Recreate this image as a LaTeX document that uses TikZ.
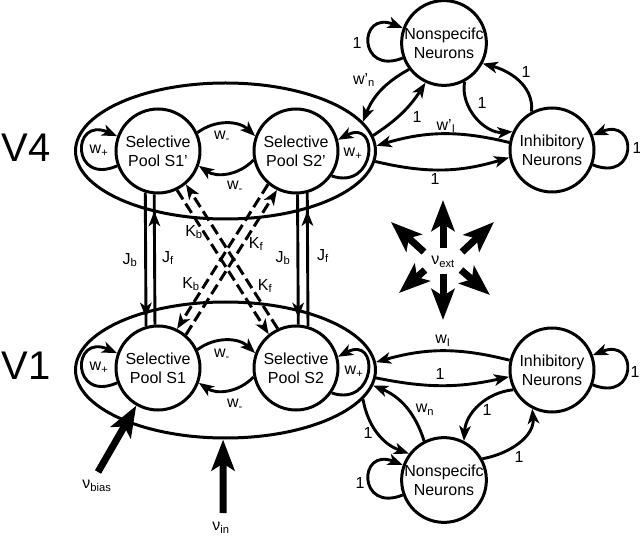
\documentclass[tikz,border=0pt]{standalone}
\usepackage{fontspec}
\setmainfont{Liberation Sans}
\usetikzlibrary{arrows.meta,shapes.geometric,decorations.markings}
\begin{document}
\begin{tikzpicture}[x=1pt,y=1pt,
  every node/.style={font=\fontsize{16}{18}\selectfont, inner sep=0pt},
  pool/.style={circle, draw, line width=3pt, minimum size=84pt, inner sep=0pt, align=center, font=\fontsize{16}{19}\selectfont},
  area/.style={ellipse, draw, line width=3pt, minimum width=300pt, minimum height=136pt, inner sep=0pt},
  arr/.style={line width=2.9pt, -{Stealth[length=15pt,width=11.5pt,inset=4pt]}},
  ln/.style={line width=2.9pt},
  midarr/.style={postaction={decorate,decoration={markings,mark=at position #1 with {\arrow{Stealth[length=15pt,width=11.5pt,inset=4pt]}}}}},
  dsh/.style={line width=3pt, dash pattern=on 11pt off 5pt, -{Stealth[length=15pt,width=11.5pt,inset=4pt]}},
  big/.style={line width=7pt, -{Stealth[length=31pt,width=23pt,inset=7pt]}},
  vlab/.style={font=\fontsize{40}{40}\selectfont},
  ]
\useasboundingbox (0,-537) rectangle (640,0);

% areas
\node[area] (V4) at (225.5,-151) {};
\node[area] (V1) at (225.5,-370) {};

% pools
\node[pool] (S1p) at (158,-151) {Selective\\Pool S1'};
\node[pool] (S2p) at (296,-151) {Selective\\Pool S2'};
\node[pool] (S1) at (158,-368) {Selective\\Pool S1};
\node[pool] (S2) at (296,-368) {Selective\\Pool S2};
\node[pool] (NT) at (444,-43) {Nonspecifc\\Neurons};
\node[pool] (IT) at (552,-150) {Inhibitory\\Neurons};
\node[pool] (IB) at (552,-370) {Inhibitory\\Neurons};
\node[pool] (NB) at (444,-480) {Nonspecifc\\Neurons};

% area labels
\node[vlab] (LV4) at (26,-148) {V4};
\node[vlab] (LV1) at (26,-366) {V1};

% V4 internal
\draw[arr] (S1p.200) .. controls +(-46,-20) and +(-46,20) .. (S1p.160);
\node (lw1) at (99,-151) {w\textsubscript{+}};
\draw[arr] (S2p.-35) .. controls +(45,-15) and +(42,22) .. (S2p.15);
\node (lw2) at (353,-154) {w\textsubscript{+}};
\draw[arr] (S1p.25) to[bend left=40] (S2p.160);
\draw[arr] (S2p.192) to[bend left=40] (S1p.-20);
\node (lw3) at (222,-137) {w\textsubscript{-}};
\node (lw4) at (235,-187) {w\textsubscript{-}};

% V1 internal
\draw[arr] (S1.200) .. controls +(-46,-20) and +(-46,20) .. (S1.160);
\node (lw5) at (99,-368) {w\textsubscript{+}};
\draw[arr] (S2.-35) .. controls +(45,-15) and +(42,22) .. (S2.15);
\node (lw6) at (354,-372) {w\textsubscript{+}};
\draw[arr] (S1.25) to[bend left=40] (S2.160);
\draw[arr] (S2.192) to[bend left=40] (S1.-20);
\node (lw7) at (222,-355) {w\textsubscript{-}};
\node (lw8) at (235,-405) {w\textsubscript{-}};

% J connections
\draw[ln, midarr=0.937] (S1p.253.4) -- (S1.106.6);
\draw[ln, midarr=0.871] (S1.94.1) -- (S1p.265.9);
\draw[ln, midarr=0.948] (S2p.272.7) -- (S2.87.3);
\draw[ln, midarr=0.867] (S2.74.8) -- (S2p.285.2);
\node (jb1) at (130,-260) {J\textsubscript{b}};
\node (jf1) at (168,-258) {J\textsubscript{f}};
\node (jb2) at (283,-258) {J\textsubscript{b}};
\node (jf2) at (323,-256) {J\textsubscript{f}};

% K connections
\draw[dsh] (S1p.-64.1) -- (S2.129.1);
\draw[dsh] (S2.115.9) -- (S1p.-50.9);
\draw[dsh] (S2p.230.9) -- (S1.64.1);
\draw[dsh] (S1.50.9) -- (S2p.244.1);
\node (kb1) at (194,-232) {K\textsubscript{b}};
\node (kf1) at (256,-244) {K\textsubscript{f}};
\node (kb2) at (191,-284) {K\textsubscript{b}};
\node (kf2) at (265,-286) {K\textsubscript{f}};

% top right network
\draw[arr] (NT.217) to[bend right=20] (V4.12);
\draw[arr] (V4.6) to[bend right=12] (NT.245);
\draw[arr] (NT.298) to[out=-100,in=185] (IT.155);
\draw[arr] (IT.118) to[out=85,in=-15] (NT.332);
\draw[arr] (IT.170) to[bend right=15] (V4.2);
\draw[arr] (V4.-4) to[bend right=15] (IT.190);
\draw[arr] (NT.200) .. controls +(-45,-18) and +(-45,18) .. (NT.160);
\draw[arr] (IT.-20) .. controls +(45,-18) and +(45,18) .. (IT.20);
\node (l1) at (364,-80) {w’\textsubscript{n}};
\node (l2) at (417,-117) {1};
\node (l3) at (482,-103) {1};
\node (l4) at (526,-72) {1};
\node (l5) at (446,-126) {w’\textsubscript{I}};
\node (l6) at (435,-179) {1};
\node (l7) at (357,-43) {1};
\node (l8) at (637,-148) {1};

% bottom right network
\draw[arr] (IB.167) to[bend right=15] (V1.3);
\draw[arr] (V1.-3) to[bend right=12] (IB.189);
\draw[arr] (NB.117) to[bend right=25] (V1.-6);
\draw[arr] (V1.-12) to[bend right=30] (NB.143);
\draw[arr] (IB.207) to[bend right=40] (NB.63);
\draw[arr] (NB.29) to[out=10,in=-85] (IB.243);
\draw[arr] (NB.200) .. controls +(-45,-18) and +(-45,18) .. (NB.160);
\draw[arr] (IB.-20) .. controls +(45,-18) and +(45,18) .. (IB.20);
\node (m1) at (443,-341) {w\textsubscript{I}};
\node (m2) at (440,-374) {1};
\node (m3) at (425,-410) {w\textsubscript{n}};
\node (m4) at (368,-433) {1};
\node (m5) at (487,-410) {1};
\node (m6) at (519,-457) {1};
\node (m7) at (360,-483) {1};
\node (m8) at (635,-372) {1};

% external inputs
\coordinate (bt) at (98,-472);
\draw[big] (bt) -- (S1.240);
\node (lbias) at (97,-486) {ν\textsubscript{bias}};
\coordinate (it) at (223,-513);
\draw[big] (it) -- (V1.268);
\node (lin) at (221,-528) {ν\textsubscript{in}};

% nu ext
\node (ext) at (443,-262) {ν\textsubscript{ext}};
\coordinate (eu0) at (443,-248); \coordinate (eu1) at (443,-200);
\coordinate (ed0) at (443,-274); \coordinate (ed1) at (443,-320);
\coordinate (ul0) at (424,-252); \coordinate (ul1) at (391,-222);
\coordinate (ur0) at (462,-252); \coordinate (ur1) at (494,-222);
\coordinate (ll0) at (425,-270); \coordinate (ll1) at (399,-293);
\coordinate (lr0) at (461,-270); \coordinate (lr1) at (490,-295);
\draw[big] (eu0) -- (eu1);
\draw[big] (ed0) -- (ed1);
\draw[big] (ul0) -- (ul1);
\draw[big] (ur0) -- (ur1);
\draw[big] (ll0) -- (ll1);
\draw[big] (lr0) -- (lr1);
\end{tikzpicture}
\end{document}
